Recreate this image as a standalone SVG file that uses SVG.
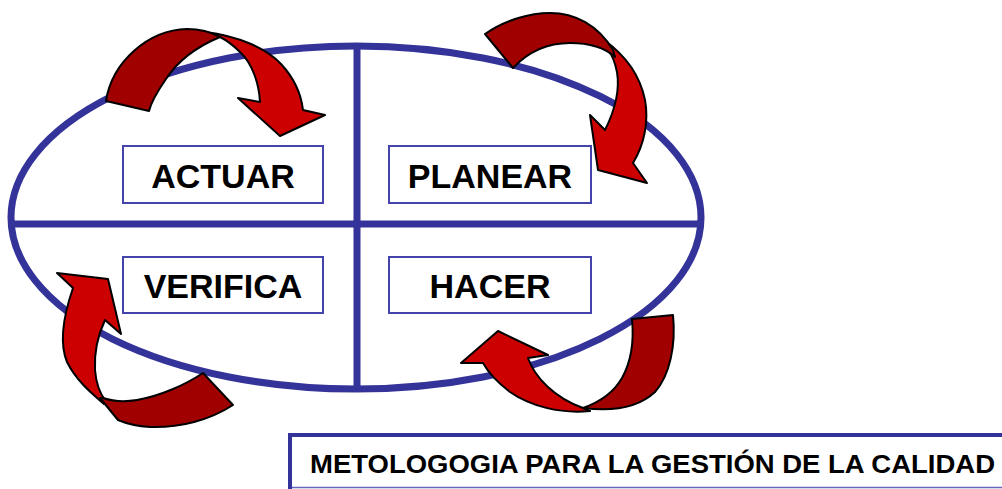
<svg xmlns="http://www.w3.org/2000/svg" width="1002" height="489" viewBox="0 0 1002 489">
<style>
.frame{fill:none;stroke:#333399;stroke-width:7}
.box{fill:#fff;stroke:#4444aa;stroke-width:2}
.lbl{font-family:"Liberation Sans",Arial,sans-serif;font-weight:bold;font-size:34px;fill:#000;text-anchor:middle}
.dark{fill:#a00000;stroke:#000;stroke-width:2;stroke-linejoin:round}
.red{fill:#cc0000;stroke:#000;stroke-width:2;stroke-linejoin:round}
.title{font-family:"Liberation Sans",Arial,sans-serif;font-weight:bold;font-size:25px;fill:#000}
</style>
<rect width="1002" height="489" fill="#fff"/>
<g id="frame">
<ellipse class="frame" cx="356" cy="217.5" rx="345" ry="171.5"/>
<line class="frame" x1="357" y1="46" x2="357" y2="389"/>
<line class="frame" x1="11" y1="224" x2="701" y2="224"/>
</g>
<g id="actuar"><rect class="box" x="123" y="146" width="200" height="57"/><text class="lbl" x="223" y="188">ACTUAR</text></g>
<g id="planear"><rect class="box" x="389" y="146" width="202" height="57"/><text class="lbl" x="490" y="188">PLANEAR</text></g>
<g id="verifica"><rect class="box" x="123" y="257" width="200" height="56"/><text class="lbl" x="223" y="298">VERIFICA</text></g>
<g id="hacer"><rect class="box" x="389" y="257" width="202" height="56"/><text class="lbl" x="490" y="298">HACER</text></g>
<g id="connectors">
<g id="arrow-actuar">
<path class="red" d="M205,32 C238,36 266,48 281,64 C294,78 301,93 303,110 L325,115 L280,136 L238,98 L260,102 C259,83 252,63 240,52 C233,45 226,40 220,37 Z"/>
<path class="dark" d="M106,101 C112,62 148,30 187,29 C200,29 211,32 220,37 C196,47 177,62 166,79 C157,92 151,103 149,111 Z"/>
</g>
<g id="arrow-planear">
<path class="red" d="M604,40 C625,55 640,75 645,100 C649,122 644,145 633,163 L647,183 L598,170 L590,115 L605,130 C615,110 620,90 617,72 C615,62 612,55 608,50 Z"/>
<path class="dark" d="M485,34 C505,20 530,13 550,13 C575,13 598,25 613,50 L615,57 C605,48 590,43 570,43 C548,43 528,52 513,68 Z"/>
</g>
<g id="arrow-hacer">
<path class="red" d="M590,411 C560,414 530,406 510,392 C497,382 488,372 483,363 L461,363 L498,331 L548,355 L528,358 C535,378 555,398 583,408 Z"/>
<path class="dark" d="M632,319 L673,315 C676,345 670,375 655,392 C640,406 615,412 583,408 C600,402 614,392 622,378 C631,362 634,340 632,319 Z"/>
</g>
<g id="arrow-verifica">
<path class="red" d="M57,273 L108,279 L121,334 L105,320 C98,335 94,352 95,370 C96,382 99,392 105,400 L104,404 C90,392 76,380 67,362 C60,345 62,320 73,288 Z"/>
<path class="dark" d="M103,398 C115,402 125,402 137,400 C160,396 185,385 203,373 L233,405 C210,420 180,428 150,427 C135,426 125,423 118,420 L100,398 Z"/>
</g>
</g>
<g id="title">
<line x1="288" y1="487.5" x2="1002" y2="487.5" stroke="#6666bb" stroke-width="1.5"/>
<path d="M290,489 L290,435 L1002,435" fill="none" stroke="#333399" stroke-width="4"/>
<text class="title" x="310" y="473" textLength="685" lengthAdjust="spacingAndGlyphs">METOLOGOGIA PARA LA GESTIÓN DE LA CALIDAD</text>
</g>
</svg>
